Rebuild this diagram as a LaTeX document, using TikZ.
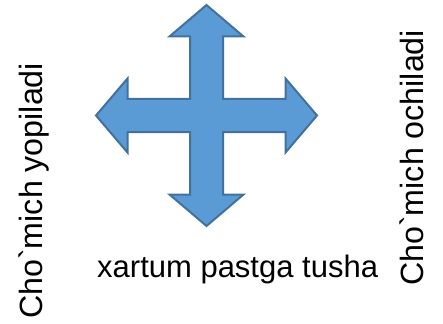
\documentclass[tikz,border=0pt]{standalone}
\usepackage{fontspec}
\setmainfont{Liberation Sans}[Ligatures=TeXOff]
\usetikzlibrary{positioning}

\definecolor{arrowfill}{HTML}{5B9BD5}
\definecolor{arrowline}{HTML}{41719C}

\begin{document}
\begin{tikzpicture}[x=1pt, y=-1pt]
    \useasboundingbox (0,0) rectangle (443,323);

    % CROSS ARROW
    \begin{scope}[shift={(206.5,115.5)}]
        \draw[arrowline, fill=arrowfill, line width=2pt, line join=miter]
            (0,-110.5) -- (37,-79) -- (16.5,-79) -- (16.5,-16.5) -- (79,-16.5) -- (79,-37)
            -- (110.5,0) -- (79,37) -- (79,16.5) -- (16.5,16.5) -- (16.5,79) -- (37,79)
            -- (0,110.5) -- (-37,79) -- (-16.5,79) -- (-16.5,16.5) -- (-79,16.5) -- (-79,37)
            -- (-110.5,0) -- (-79,-37) -- (-79,-16.5) -- (-16.5,-16.5) -- (-16.5,-79) -- (-37,-79)
            -- cycle;
    \end{scope}

    % LABELS
    \node[font=\fontsize{32.2}{38}\selectfont, inner sep=0pt, anchor=base west, rotate=90] (closes) at (42,319) {Cho`mich yopiladi};
    \node[font=\fontsize{32.2}{38}\selectfont, inner sep=0pt, anchor=base west, rotate=90] (opens) at (423,286) {Cho`mich ochiladi};
    \node[font=\fontsize{31}{36}\selectfont, inner sep=0pt, anchor=base west] (down) at (97,277) {xartum pastga tusha};
\end{tikzpicture}
\end{document}
